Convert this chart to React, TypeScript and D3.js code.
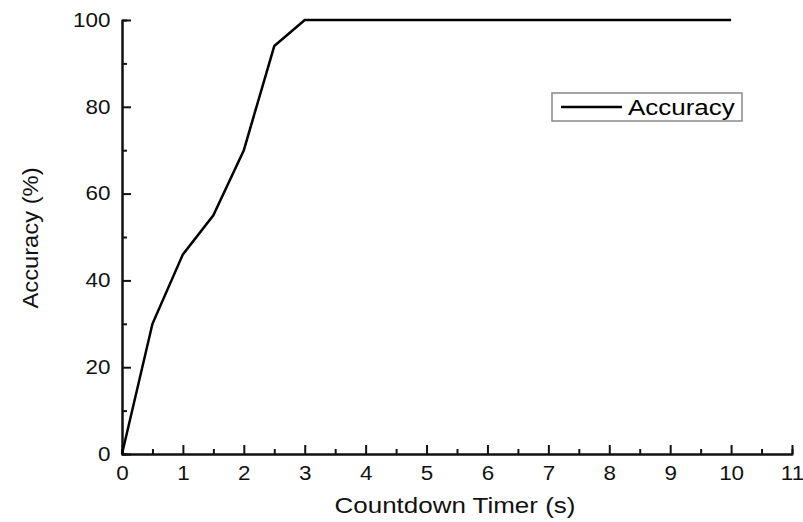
import React, { useEffect, useRef } from 'react'
import * as d3 from 'd3'

// countdown timer (s) vs accuracy (%)
const timer = [0, 0.5, 1, 1.5, 2, 2.5, 3, 4, 5, 6, 7, 8, 9, 10]
const accuracy = [0, 30, 46, 55, 70, 94, 100, 100, 100, 100, 100, 100, 100, 100]
const xTicks = [0, 1, 2, 3, 4, 5, 6, 7, 8, 9, 10, 11]
const yTicks = [0, 20, 40, 60, 80, 100]
const seriesName = 'Accuracy'

const W = 803
const H = 522
const FONT = '"Liberation Sans", Arial, sans-serif'

export default function App () {
  const ref = useRef<SVGSVGElement>(null)

  useEffect(() => {
    const svg = d3.select(ref.current)
    svg.selectAll('*').remove()

    const x = d3.scaleLinear().domain([0, 11]).range([122, 792])
    const y = d3.scaleLinear().domain([0, 100]).range([454, 20])

    // minor ticks first, main axes on top
    const minorX = d3.range(0.5, 11, 1)
    const minorY = d3.range(10, 100, 20)
    svg.append('g').attr('transform', `translate(0,${y(0)})`)
      .call(d3.axisBottom(x).tickValues(minorX).tickSize(-5).tickFormat(() => ''))
    svg.append('g').attr('transform', `translate(${x(0)},0)`)
      .call(d3.axisLeft(y).tickValues(minorY).tickSize(-5).tickFormat(() => ''))

    const gx = svg.append('g').attr('transform', `translate(0,${y(0)})`)
      .call(d3.axisBottom(x).tickValues(xTicks).tickSizeInner(-9).tickSizeOuter(0).tickPadding(8).tickFormat(d3.format('d')))
    const gy = svg.append('g').attr('transform', `translate(${x(0)},0)`)
      .call(d3.axisLeft(y).tickValues(yTicks).tickSizeInner(-9).tickSizeOuter(0).tickPadding(10).tickFormat(d3.format('d')))

    svg.selectAll('.domain, .tick line').attr('stroke', '#111').attr('stroke-width', 2)
    for (const g of [gx, gy]) {
      g.selectAll('text').attr('font-family', FONT).attr('font-size', 19.5).attr('fill', '#111')
    }
    gx.selectAll('text').attr('dy', '0.9em').attr('transform', 'scale(1.15,1)')
    gy.selectAll('text').attr('transform', 'scale(1.15,1)')

    const line = d3.line<number>().x((d, i) => x(timer[i])).y(d => y(d))
    svg.append('path').attr('d', line(accuracy)).attr('fill', 'none')
      .attr('stroke', '#000').attr('stroke-width', 2.5).attr('stroke-linejoin', 'miter')

    // legend
    const lg = svg.append('g')
    lg.append('rect').attr('x', 552).attr('y', 93).attr('width', 190).attr('height', 28)
      .attr('fill', 'white').attr('stroke', '#888').attr('stroke-width', 1.5)
    lg.append('line').attr('x1', 561).attr('x2', 622).attr('y1', 107).attr('y2', 107)
      .attr('stroke', '#000').attr('stroke-width', 2.5)
    lg.append('text').attr('transform', 'translate(628,115) scale(1.18,1)')
      .attr('font-family', FONT).attr('font-size', 22).text(seriesName)

    // axis titles
    svg.append('text').attr('transform', 'translate(455,513) scale(1.18,1)').attr('text-anchor', 'middle')
      .attr('font-family', FONT).attr('font-size', 22).attr('fill', '#111').text('Countdown Timer (s)')
    svg.append('text').attr('transform', 'translate(38,238) rotate(-90) scale(1.08,1)').attr('text-anchor', 'middle')
      .attr('font-family', FONT).attr('font-size', 22).attr('fill', '#111').text('Accuracy (%)')
  }, [])

  return (
    <svg ref={ref} width={W} height={H} style={{ position: 'absolute', left: 0, top: 0, background: 'white' }} />
  )
}
